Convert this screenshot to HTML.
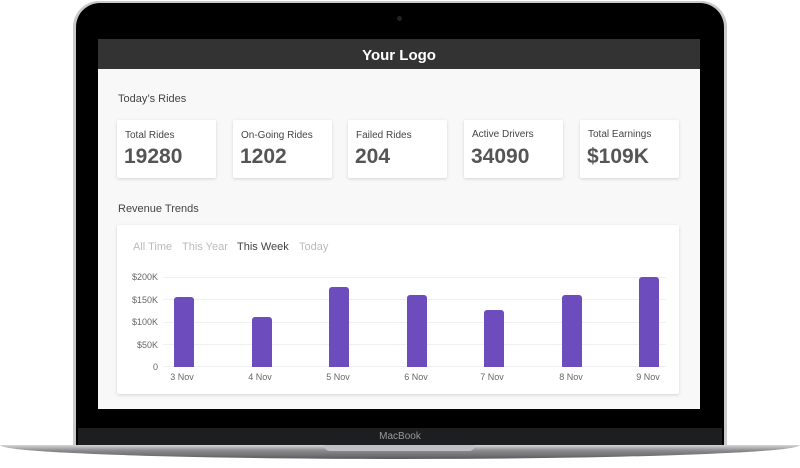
<!DOCTYPE html>
<html><head><style>
body{margin:0;width:800px;height:468px;background:#fff;position:relative;overflow:hidden;font-family:"Liberation Sans",sans-serif}
.a{position:absolute}
.card{position:absolute;background:#fff;box-shadow:0 1px 3px rgba(0,0,0,.15);border-radius:2px}
.lab{position:absolute;left:8px;top:10px;font-size:10px;color:#444}
.val{position:absolute;left:7px;top:25px;font-size:21px;color:#555;font-weight:bold}
.yl{position:absolute;width:40px;text-align:right;font-size:9px;color:#666}
.xl{position:absolute;width:40px;text-align:center;font-size:9px;color:#666;top:372px}
.bar{position:absolute;width:20px;background:#6d4dbd;border-radius:3px 3px 0 0}
.g{position:absolute;left:163px;width:503px;height:1px;background:#f0f0f0}
.t{position:absolute;top:241px;font-size:11px;color:#bbb}
</style></head><body>
<div class="a" style="left:73px;top:1px;width:654px;height:450px;border-radius:26px 26px 0 0;background:#c9c9cc"></div>
<div class="a" style="left:76px;top:3px;width:648px;height:447px;border-radius:24px 24px 0 0;background:#000"></div>
<div class="a" style="left:397px;top:16px;width:5px;height:5px;border-radius:50%;background:#222"></div>
<div class="a" style="left:78px;top:428px;width:644px;height:18px;background:#1d1e20"></div>
<div class="a" style="left:0;top:432px;width:800px;text-align:center;font-size:10px;color:#999;line-height:1">MacBook</div>
<div class="a" style="left:0;top:445px;width:800px;height:14px;border-radius:0 0 50% 50%/0 0 100% 100%;background:linear-gradient(#d8d8da,#8b8b8e 40%,#5c5c60)"></div>
<div class="a" style="left:324px;top:445px;width:151px;height:6px;border-radius:0 0 6px 6px;background:#c0c0c4"></div>
<div class="a" style="left:98px;top:39px;width:602px;height:370px;background:#f8f8f8"></div>
<div class="a" style="left:98px;top:39px;width:602px;height:30px;background:#333;color:#fff;font-weight:bold;font-size:15px;text-align:center;line-height:34px">Your Logo</div>
<div class="a" style="left:118px;top:93px;font-size:11px;color:#444">Today’s Rides</div>
<div class="card" style="left:117px;top:120px;width:99px;height:58px"><div class="lab">Total Rides</div><div class="val">19280</div></div>
<div class="card" style="left:233px;top:120px;width:99px;height:58px"><div class="lab">On-Going Rides</div><div class="val">1202</div></div>
<div class="card" style="left:348px;top:120px;width:99px;height:58px"><div class="lab">Failed Rides</div><div class="val">204</div></div>
<div class="card" style="left:464px;top:120px;width:99px;height:58px"><div class="lab" style="top:9px">Active Drivers</div><div class="val">34090</div></div>
<div class="card" style="left:580px;top:120px;width:99px;height:58px"><div class="lab" style="top:9px">Total Earnings</div><div class="val">$109K</div></div>
<div class="a" style="left:118px;top:203px;font-size:11px;color:#444">Revenue Trends</div>
<div class="card" style="left:117px;top:225px;width:562px;height:169px"></div>
<div class="t" style="left:133px">All Time</div>
<div class="t" style="left:182px">This Year</div>
<div class="t" style="left:237px;color:#444">This Week</div>
<div class="t" style="left:299px">Today</div>
<div class="g" style="top:277px"></div><div class="g" style="top:299px"></div><div class="g" style="top:322px"></div><div class="g" style="top:344px"></div><div class="g" style="top:366px"></div>
<div class="yl" style="left:118px;top:272px">$200K</div>
<div class="yl" style="left:118px;top:295px">$150K</div>
<div class="yl" style="left:118px;top:317px">$100K</div>
<div class="yl" style="left:118px;top:340px">$50K</div>
<div class="yl" style="left:118px;top:362px">0</div>
<div class="bar" style="left:174px;top:297px;height:70px"></div>
<div class="bar" style="left:252px;top:317px;height:50px"></div>
<div class="bar" style="left:329px;top:287px;height:80px"></div>
<div class="bar" style="left:407px;top:295px;height:72px"></div>
<div class="bar" style="left:484px;top:310px;height:57px"></div>
<div class="bar" style="left:562px;top:295px;height:72px"></div>
<div class="bar" style="left:639px;top:277px;height:90px"></div>
<div class="xl" style="left:162px">3 Nov</div>
<div class="xl" style="left:240px">4 Nov</div>
<div class="xl" style="left:318px">5 Nov</div>
<div class="xl" style="left:396px">6 Nov</div>
<div class="xl" style="left:472px">7 Nov</div>
<div class="xl" style="left:551px">8 Nov</div>
<div class="xl" style="left:628px">9 Nov</div>
</body></html>
